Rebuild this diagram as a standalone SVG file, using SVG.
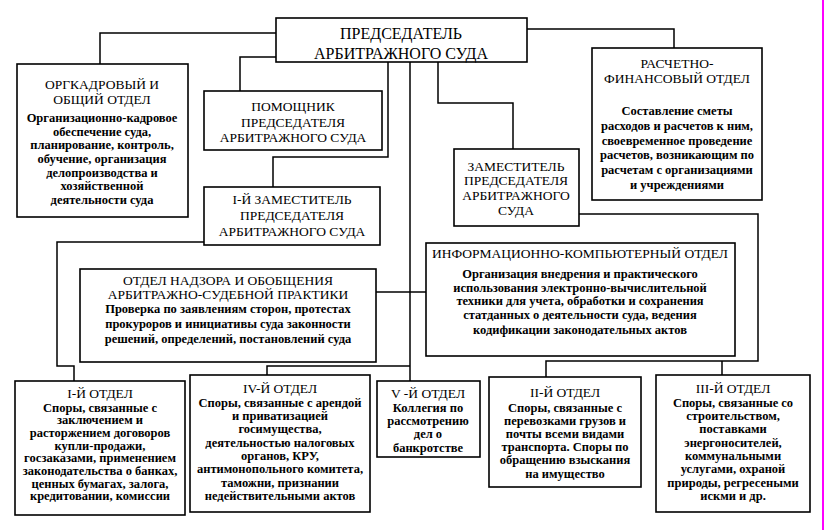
<svg xmlns="http://www.w3.org/2000/svg" width="825" height="530" viewBox="0 0 825 530">
<style>
.box{fill:#fff;stroke:#000;stroke-width:1.6}
.ln{fill:none;stroke:#000;stroke-width:1.5}
text{font-family:"Liberation Serif","Times New Roman",serif;fill:#000;text-anchor:middle}
.t{font-size:13.5px}
.big{font-size:16px}
.b{font-size:12.5px;font-weight:bold}
</style>
<rect width="825" height="530" fill="#fff"/>
<g id="connectors">
<polyline class="ln" points="276,33 100,33 100,64"/>
<polyline class="ln" points="276,57 240,57 240,91"/>
<polyline class="ln" points="388,62 388,157 273,157 273,187"/>
<polyline class="ln" points="410,62 410,381"/>
<polyline class="ln" points="438,62 438,103 513,103 513,149"/>
<polyline class="ln" points="527,29 674,29 674,48"/>
<polyline class="ln" points="204,242 57,242 57,366 74,366 74,381"/>
<polyline class="ln" points="376,292 426,292"/>
<polyline class="ln" points="410,366 267,366 267,375"/>
<polyline class="ln" points="579,214 758,214 758,361 546,361 546,377"/>
<polyline class="ln" points="722,361 722,375"/>
</g>
<g id="chairman">
<rect class="box" x="276" y="18" width="251" height="44"/>
<text class="big" x="401" y="39">ПРЕДСЕДАТЕЛЬ</text>
<text class="big" x="401" y="59">АРБИТРАЖНОГО СУДА</text>
</g>
<g id="orgkadr">
<rect class="box" x="17" y="64" width="171" height="153"/>
<text class="t" x="102" y="89">ОРГКАДРОВЫЙ И</text>
<text class="t" x="102" y="104">ОБЩИЙ ОТДЕЛ</text>
<text class="b" x="102" y="121.5">Организационно-кадровое</text>
<text class="b" x="102" y="135.5">обеспечение суда,</text>
<text class="b" x="102" y="149">планирование, контроль,</text>
<text class="b" x="102" y="162.5">обучение, организация</text>
<text class="b" x="102" y="176.5">делопроизводства и</text>
<text class="b" x="102" y="190">хозяйственной</text>
<text class="b" x="102" y="203.5">деятельности суда</text>
</g>
<g id="pomoshchnik">
<rect class="box" x="204" y="91" width="178" height="59"/>
<text class="t" x="293" y="110.5">ПОМОЩНИК</text>
<text class="t" x="293" y="126.5">ПРЕДСЕДАТЕЛЯ</text>
<text class="t" x="293" y="141.5">АРБИТРАЖНОГО СУДА</text>
</g>
<g id="raschet">
<rect class="box" x="592" y="48" width="170" height="152"/>
<text class="t" x="677" y="67.5">РАСЧЕТНО-</text>
<text class="t" x="677" y="82.5">ФИНАНСОВЫЙ ОТДЕЛ</text>
<text class="b" x="677" y="114.5">Составление сметы</text>
<text class="b" x="677" y="129.5">расходов и расчетов к ним,</text>
<text class="b" x="677" y="144.5">своевременное проведение</text>
<text class="b" x="677" y="158.5">расчетов, возникающим по</text>
<text class="b" x="677" y="173.5">расчетам с организациями</text>
<text class="b" x="677" y="189">и учреждениями</text>
</g>
<g id="zam">
<rect class="box" x="454" y="149" width="125" height="77"/>
<text class="t" x="516" y="170.5">ЗАМЕСТИТЕЛЬ</text>
<text class="t" x="516" y="184.5">ПРЕДСЕДАТЕЛЯ</text>
<text class="t" x="516" y="199.5">АРБИТРАЖНОГО</text>
<text class="t" x="516" y="214.5">СУДА</text>
</g>
<g id="first-deputy">
<rect class="box" x="204" y="187" width="176" height="58"/>
<text class="t" x="292" y="203.5">I-Й ЗАМЕСТИТЕЛЬ</text>
<text class="t" x="292" y="219.5">ПРЕДСЕДАТЕЛЯ</text>
<text class="t" x="292" y="235.5">АРБИТРАЖНОГО СУДА</text>
</g>
<g id="nadzor">
<rect class="box" x="80" y="269" width="296" height="93"/>
<text class="t" x="228" y="284.5">ОТДЕЛ НАДЗОРА  И ОБОБЩЕНИЯ</text>
<text class="t" x="228" y="298.5">АРБИТРАЖНО-СУДЕБНОЙ ПРАКТИКИ</text>
<text class="b" x="228" y="312.5">Проверка по заявлениям сторон, протестах</text>
<text class="b" x="228" y="327.5">прокуроров и инициативы суда законности</text>
<text class="b" x="228" y="342.5">решений, определений, постановлений суда</text>
</g>
<g id="info">
<rect class="box" x="426" y="243" width="309" height="113"/>
<text class="t" x="580" y="257.5">ИНФОРМАЦИОННО-КОМПЬЮТЕРНЫЙ ОТДЕЛ</text>
<text class="b" x="580" y="277.5">Организация внедрения и практического</text>
<text class="b" x="580" y="291.5">использования электронно-вычислительной</text>
<text class="b" x="580" y="304.5">техники для учета, обработки и сохранения</text>
<text class="b" x="580" y="318.5">статданных о деятельности суда, ведения</text>
<text class="b" x="580" y="333.5">кодификации законодательных актов</text>
</g>
<g id="otdel-1">
<rect class="box" x="15" y="381" width="170" height="134"/>
<text class="t" x="100" y="397.5">I-Й ОТДЕЛ</text>
<text class="b" x="100" y="411.5">Споры, связанные с</text>
<text class="b" x="100" y="424.2">заключением и</text>
<text class="b" x="100" y="436.9">расторжением договоров</text>
<text class="b" x="100" y="449.6">купли-продажи,</text>
<text class="b" x="100" y="462.3">госзаказами, применением</text>
<text class="b" x="100" y="475">законодательства о банках,</text>
<text class="b" x="100" y="487.7">ценных бумагах, залога,</text>
<text class="b" x="100" y="500.4">кредитовании, комиссии</text>
</g>
<g id="otdel-4">
<rect class="box" x="190" y="375" width="180" height="137"/>
<text class="t" x="280" y="392.5">IV-Й ОТДЕЛ</text>
<text class="b" x="280" y="406.5">Споры, связанные с арендой</text>
<text class="b" x="280" y="420">и приватизацией</text>
<text class="b" x="280" y="433">госимущества,</text>
<text class="b" x="280" y="446.5">деятельностью налоговых</text>
<text class="b" x="280" y="460">органов, КРУ,</text>
<text class="b" x="280" y="473">антимонопольного комитета,</text>
<text class="b" x="280" y="486.5">таможни, признании</text>
<text class="b" x="280" y="500">недействительными актов</text>
</g>
<g id="otdel-5">
<rect class="box" x="377" y="381" width="103" height="76"/>
<text class="t" x="428" y="397.5">V -Й ОТДЕЛ</text>
<text class="b" x="428" y="411.5">Коллегия по</text>
<text class="b" x="428" y="424.5">рассмотрению</text>
<text class="b" x="428" y="437.5">дел о</text>
<text class="b" x="428" y="451.5">банкротстве</text>
</g>
<g id="otdel-2">
<rect class="box" x="489" y="377" width="152" height="110"/>
<text class="t" x="565" y="396.5">II-Й ОТДЕЛ</text>
<text class="b" x="565" y="411.5">Споры, связанные с</text>
<text class="b" x="565" y="424.7">перевозками грузов и</text>
<text class="b" x="565" y="437.9">почты всеми видами</text>
<text class="b" x="565" y="451.1">транспорта. Споры по</text>
<text class="b" x="565" y="464.3">обращению взыскания</text>
<text class="b" x="565" y="477.5">на имущество</text>
</g>
<g id="otdel-3">
<rect class="box" x="656" y="375" width="154" height="137"/>
<text class="t" x="733" y="392.5">III-Й ОТДЕЛ</text>
<text class="b" x="733" y="406.5">Споры, связанные со</text>
<text class="b" x="733" y="420">строительством,</text>
<text class="b" x="733" y="433">поставками</text>
<text class="b" x="733" y="446.5">энергоносителей,</text>
<text class="b" x="733" y="460">коммунальными</text>
<text class="b" x="733" y="473">услугами, охраной</text>
<text class="b" x="733" y="486.5">природы, регресеными</text>
<text class="b" x="733" y="500">искми и др.</text>
</g>
<line x1="823" y1="0" x2="823" y2="530" stroke="#ff00ff" stroke-width="2"/>
</svg>
